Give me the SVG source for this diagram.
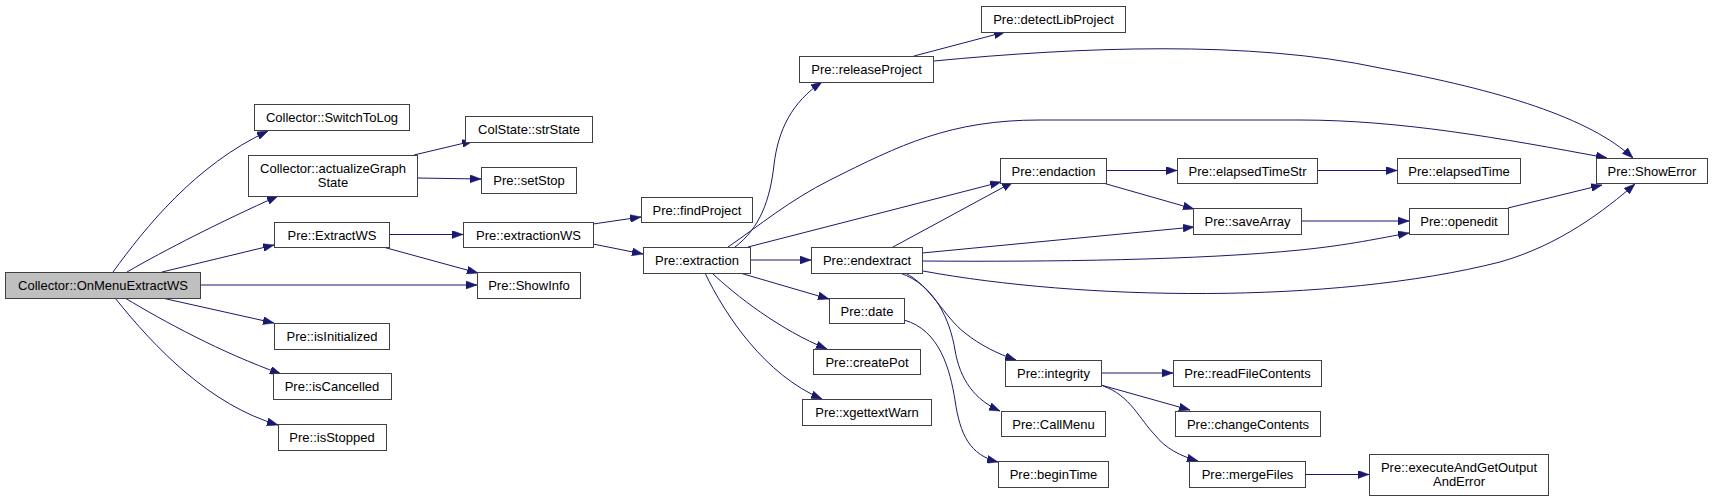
<svg xmlns="http://www.w3.org/2000/svg" width="1712" height="501" viewBox="0 0 1712 501">
<style>
.n rect{fill:#ffffff;stroke:#404040;stroke-width:1}
.n.root rect{fill:#bfbfbf}
.n text{font-family:"Liberation Sans",Arial,sans-serif;font-size:13px;fill:#000000;text-anchor:middle}
.e path{fill:none;stroke:#191970;stroke-width:1;marker-end:url(#ah)}
</style>
<defs>
<marker id="ah" markerUnits="userSpaceOnUse" viewBox="0 0 11 8" refX="11" refY="4" markerWidth="11" markerHeight="8" orient="auto">
<path d="M0,0 L11,4 L0,8 Z" fill="#191970" stroke="#191970" stroke-width="0.5"/>
</marker>
</defs>
<rect x="0" y="0" width="1712" height="501" fill="#ffffff"/>
<g id="connectors" class="e">
<path d="M113,272 C145,228 195,165 268,131"/>
<path d="M127,272 C165,250 220,222 278,196"/>
<path d="M162,272 L274,245"/>
<path d="M200,285 L477,285"/>
<path d="M162,298 L274,323"/>
<path d="M125,298 C165,322 220,352 281,374"/>
<path d="M115,298 C155,348 210,405 278,425"/>
<path d="M414,155 L473,141"/>
<path d="M417,178 L481,179"/>
<path d="M389,234.5 L463,234.5"/>
<path d="M383,247 L478,273"/>
<path d="M593,224 L641,217"/>
<path d="M593,244 L643,254"/>
<path d="M735,247 C760,228 770,200 774,165 C778,130 792,102 822,82"/>
<path d="M728,247 C760,225 790,200 830,180 C900,145 950,120 1040,120 L1300,120 C1400,120 1500,138 1607,158"/>
<path d="M748,247 L1001,182"/>
<path d="M750,260 L811,260"/>
<path d="M740,273 L829,299"/>
<path d="M712,273 C735,295 780,330 827,349"/>
<path d="M705,273 C725,315 765,375 822,399"/>
<path d="M914,56 L1005,32"/>
<path d="M934,61 C1080,47 1250,40 1380,68 C1500,90 1590,118 1633,158"/>
<path d="M1106,170.5 L1177,170.5"/>
<path d="M1103,183 L1194,209"/>
<path d="M893,247 L1013,182"/>
<path d="M922,253 L1194,227"/>
<path d="M922,261 C1050,262 1200,260 1300,250 C1350,245 1380,238 1409,233"/>
<path d="M923,271 C1080,300 1330,305 1500,262 C1560,245 1605,210 1635,184"/>
<path d="M905,273 C930,285 945,318 965,333 C980,345 998,354 1016,360"/>
<path d="M900,273 C935,285 950,320 955,350 C960,380 975,400 1000,411"/>
<path d="M904,320 C940,330 950,370 955,400 C960,435 970,455 998,462"/>
<path d="M1317,170.5 L1397,170.5"/>
<path d="M1301,221 L1409,221"/>
<path d="M1508,208 L1602,185"/>
<path d="M1101,373 L1173,373"/>
<path d="M1101,385 L1190,410"/>
<path d="M1103,386 C1130,395 1140,420 1155,435 C1165,448 1180,456 1198,461"/>
<path d="M1305,474.5 L1369,474.5"/>
</g>
<g id="node-OnMenuExtractWS" class="n root"><rect x="5.5" y="272.5" width="195" height="26"/><text x="103" y="290">Collector::OnMenuExtractWS</text></g>
<g id="node-SwitchToLog" class="n"><rect x="254.5" y="104.5" width="155" height="26"/><text x="332" y="122">Collector::SwitchToLog</text></g>
<g id="node-actualizeGraphState" class="n"><rect x="248.5" y="155.5" width="169" height="41"/><text x="333" y="173">Collector::actualizeGraph</text><text x="333" y="187">State</text></g>
<g id="node-ExtractWS" class="n"><rect x="274.5" y="222.5" width="115" height="25"/><text x="332" y="239.5">Pre::ExtractWS</text></g>
<g id="node-isInitialized" class="n"><rect x="274.5" y="323.5" width="115" height="26"/><text x="332" y="341">Pre::isInitialized</text></g>
<g id="node-isCancelled" class="n"><rect x="273.5" y="373.5" width="118" height="26"/><text x="332" y="391">Pre::isCancelled</text></g>
<g id="node-isStopped" class="n"><rect x="278.5" y="424.5" width="108" height="26"/><text x="332" y="442">Pre::isStopped</text></g>
<g id="node-strState" class="n"><rect x="465.5" y="116.5" width="127" height="26"/><text x="529" y="134">ColState::strState</text></g>
<g id="node-setStop" class="n"><rect x="481.5" y="167.5" width="95" height="26"/><text x="529" y="185">Pre::setStop</text></g>
<g id="node-ShowInfo" class="n"><rect x="477.5" y="272.5" width="103" height="26"/><text x="529" y="290">Pre::ShowInfo</text></g>
<g id="node-extractionWS" class="n"><rect x="463.5" y="222.5" width="130" height="25"/><text x="528.5" y="239.5">Pre::extractionWS</text></g>
<g id="node-findProject" class="n"><rect x="641.5" y="197.5" width="111" height="25"/><text x="697" y="214.5">Pre::findProject</text></g>
<g id="node-extraction" class="n"><rect x="643.5" y="247.5" width="107" height="26"/><text x="697" y="265">Pre::extraction</text></g>
<g id="node-releaseProject" class="n"><rect x="799.5" y="56.5" width="134" height="26"/><text x="866.5" y="74">Pre::releaseProject</text></g>
<g id="node-detectLibProject" class="n"><rect x="981.5" y="6.5" width="144" height="26"/><text x="1053.5" y="24">Pre::detectLibProject</text></g>
<g id="node-endaction" class="n"><rect x="1000.5" y="158.5" width="106" height="25"/><text x="1053.5" y="175.5">Pre::endaction</text></g>
<g id="node-endextract" class="n"><rect x="811.5" y="247.5" width="111" height="26"/><text x="867" y="265">Pre::endextract</text></g>
<g id="node-date" class="n"><rect x="829.5" y="298.5" width="75" height="25"/><text x="867" y="315.5">Pre::date</text></g>
<g id="node-createPot" class="n"><rect x="813.5" y="349.5" width="107" height="25"/><text x="867" y="366.5">Pre::createPot</text></g>
<g id="node-xgettextWarn" class="n"><rect x="802.5" y="399.5" width="129" height="26"/><text x="867" y="417">Pre::xgettextWarn</text></g>
<g id="node-elapsedTimeStr" class="n"><rect x="1177.5" y="158.5" width="140" height="25"/><text x="1247.5" y="175.5">Pre::elapsedTimeStr</text></g>
<g id="node-elapsedTime" class="n"><rect x="1397.5" y="158.5" width="123" height="25"/><text x="1459" y="175.5">Pre::elapsedTime</text></g>
<g id="node-saveArray" class="n"><rect x="1193.5" y="208.5" width="108" height="26"/><text x="1247.5" y="226">Pre::saveArray</text></g>
<g id="node-openedit" class="n"><rect x="1409.5" y="208.5" width="99" height="26"/><text x="1459" y="226">Pre::openedit</text></g>
<g id="node-ShowError" class="n"><rect x="1596.5" y="158.5" width="111" height="25"/><text x="1652" y="175.5">Pre::ShowError</text></g>
<g id="node-integrity" class="n"><rect x="1005.5" y="360.5" width="96" height="26"/><text x="1053.5" y="378">Pre::integrity</text></g>
<g id="node-readFileContents" class="n"><rect x="1173.5" y="360.5" width="148" height="26"/><text x="1247.5" y="378">Pre::readFileContents</text></g>
<g id="node-CallMenu" class="n"><rect x="1001.5" y="411.5" width="104" height="25"/><text x="1053.5" y="428.5">Pre::CallMenu</text></g>
<g id="node-changeContents" class="n"><rect x="1175.5" y="411.5" width="145" height="25"/><text x="1248" y="428.5">Pre::changeContents</text></g>
<g id="node-beginTime" class="n"><rect x="998.5" y="461.5" width="110" height="26"/><text x="1053.5" y="479">Pre::beginTime</text></g>
<g id="node-mergeFiles" class="n"><rect x="1189.5" y="461.5" width="116" height="26"/><text x="1247.5" y="479">Pre::mergeFiles</text></g>
<g id="node-executeAndGetOutputAndError" class="n"><rect x="1369.5" y="454.5" width="179" height="41"/><text x="1459" y="472">Pre::executeAndGetOutput</text><text x="1459" y="486">AndError</text></g>
</svg>
